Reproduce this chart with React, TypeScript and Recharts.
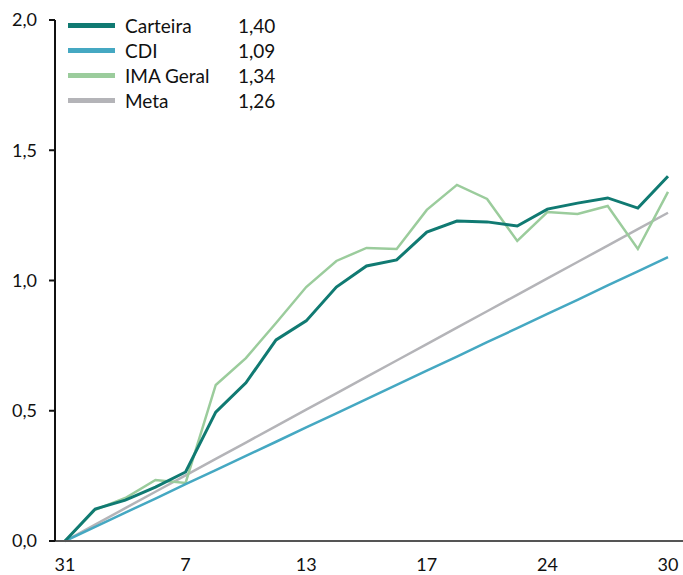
import React from "react";
import { Line, LineChart, XAxis, YAxis } from "recharts";

const days = ["31", "1", "4", "6", "7", "8", "11", "12", "13", "14", "15", "16", "17", "20", "21", "22", "24", "27", "28", "29", "30"];

const carteira = [0, 0.123, 0.157, 0.207, 0.265, 0.495, 0.607, 0.772, 0.845, 0.975, 1.056, 1.079, 1.186, 1.228, 1.225, 1.209, 1.274, 1.297, 1.317, 1.278, 1.4];
const cdi = [0, 0.054, 0.109, 0.163, 0.218, 0.272, 0.327, 0.381, 0.436, 0.49, 0.545, 0.599, 0.654, 0.708, 0.763, 0.817, 0.872, 0.926, 0.981, 1.035, 1.09];
const imaGeral = [0, 0.12, 0.165, 0.234, 0.223, 0.599, 0.702, 0.837, 0.975, 1.075, 1.125, 1.121, 1.271, 1.367, 1.313, 1.152, 1.263, 1.255, 1.286, 1.121, 1.34];
const meta = [0, 0.063, 0.126, 0.189, 0.252, 0.315, 0.378, 0.441, 0.504, 0.567, 0.63, 0.693, 0.756, 0.819, 0.882, 0.945, 1.008, 1.071, 1.134, 1.197, 1.26];

const yTicks = [0, 0.5, 1, 1.5, 2];

const series = [
  { key: "carteira", name: "Carteira", color: "#107a72", width: 3, last: "1,40" },
  { key: "cdi", name: "CDI", color: "#45a8c2", width: 2.5, last: "1,09" },
  { key: "ima", name: "IMA Geral", color: "#9bcc9c", width: 2.5, last: "1,34" },
  { key: "meta", name: "Meta", color: "#b4b4b8", width: 2.5, last: "1,26" },
];

const data = days.map((d, i) => ({
  day: d,
  carteira: carteira[i],
  cdi: cdi[i],
  ima: imaGeral[i],
  meta: meta[i],
}));

const font = "Lato, 'DejaVu Sans', sans-serif";

function LegendBox() {
  return (
    <div style={{ position: "absolute", left: 68, top: 13, fontFamily: font, fontSize: 19, color: "#111", lineHeight: "25px" }}>
      {series.map((s) => (
        <div key={s.key} style={{ display: "flex", alignItems: "center", height: 25 }}>
          <span style={{ display: "inline-block", width: 47, height: 5, background: s.color }} />
          <span style={{ marginLeft: 10, width: 113 }}>{s.name}</span>
          <span>{s.last}</span>
        </div>
      ))}
    </div>
  );
}

export default function App() {
  return (
    <div style={{ position: "absolute", left: 0, top: 0, width: 683, height: 575, background: "#fff" }}>
      <LineChart width={683} height={575} data={data} margin={{ top: 20, right: 0, left: 0, bottom: 0 }}>
        <XAxis
          dataKey="day"
          interval={3}
          tickLine={false}
          tickSize={8}
          tickMargin={9}
          height={34}
          padding={{ left: 10, right: 15 }}
          axisLine={{ stroke: "#555", strokeWidth: 2 }}
          tick={{ fill: "#111", fontSize: 18, fontFamily: font }}
        />
        <YAxis
          domain={[0, 2]}
          ticks={yTicks}
          width={55}
          tickSize={6}
          tickMargin={12}
          axisLine={{ stroke: "#111", strokeWidth: 2 }}
          tickLine={{ stroke: "#111", strokeWidth: 2 }}
          tickFormatter={(v: number) => v.toFixed(1).replace(".", ",")}
          tick={{ fill: "#111", fontSize: 18, fontFamily: font }}
        />
        {series
          .map((s) => (
            <Line
              key={s.key}
              type="linear"
              dataKey={s.key}
              name={s.name}
              stroke={s.color}
              strokeWidth={s.width}
              dot={false}
              activeDot={false}
              isAnimationActive={false}
            />
          ))
          .reverse()}
      </LineChart>
      <LegendBox />
    </div>
  );
}
